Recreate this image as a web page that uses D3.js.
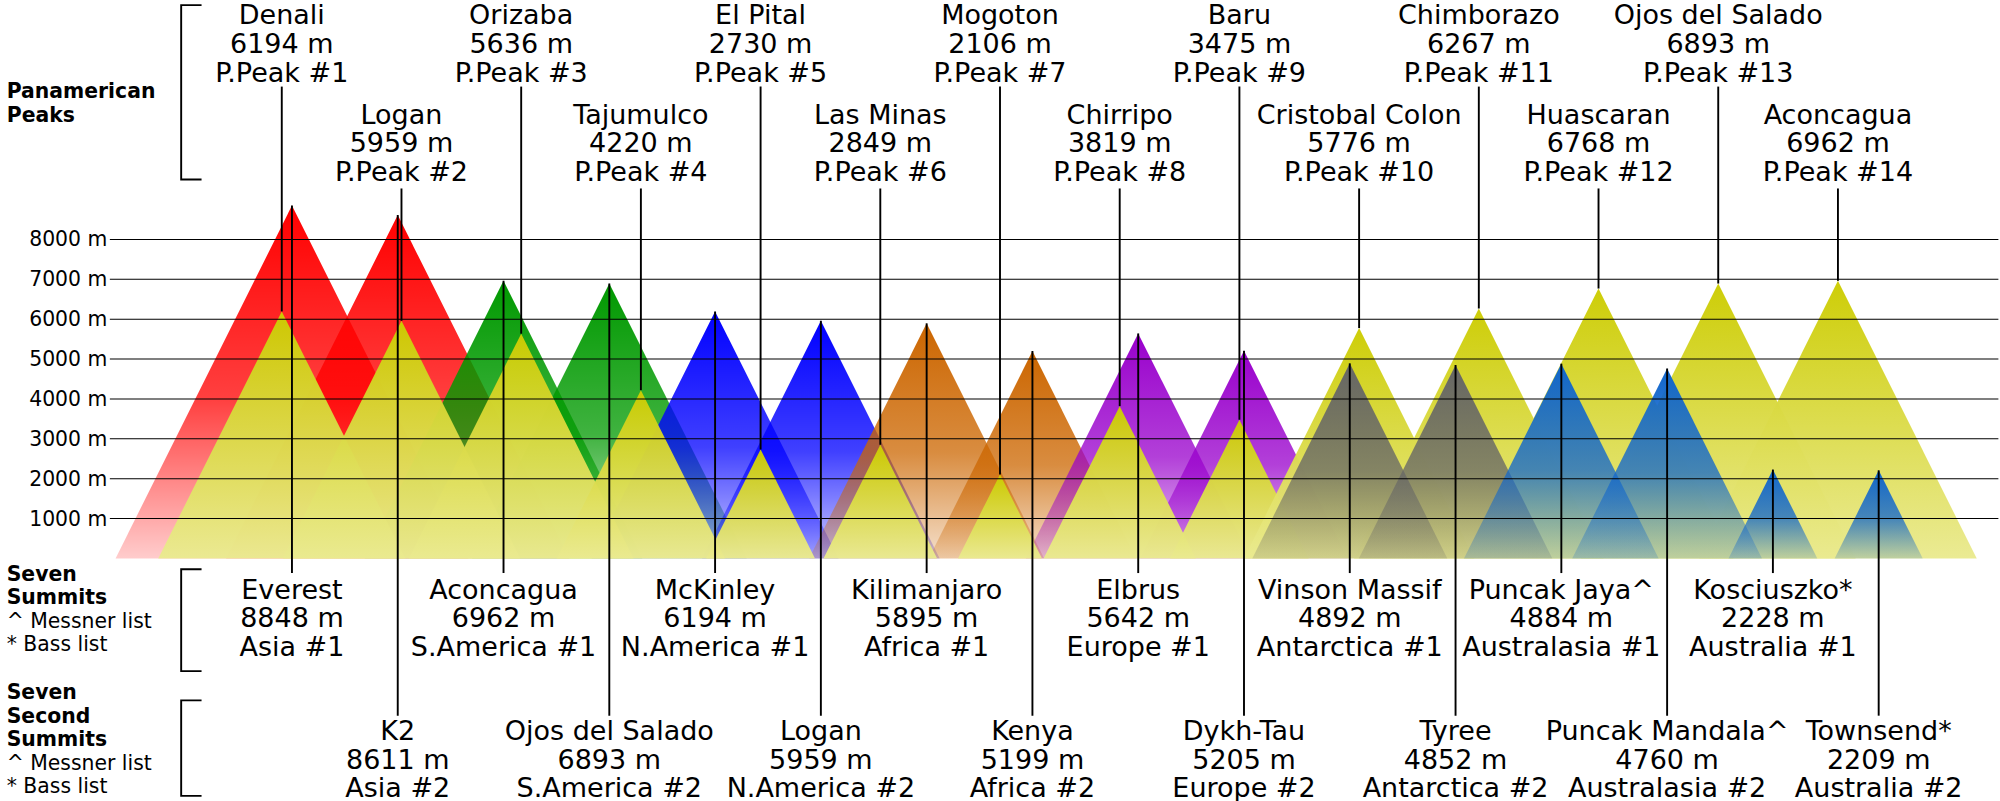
<!DOCTYPE html>
<html><head><meta charset="utf-8">
<script src="https://cdn.jsdelivr.net/npm/d3@7"></script>
<style>body{margin:0;background:#fff}text{font-family:"DejaVu Sans",sans-serif}</style>
</head><body>
<script>
const summitNames=["Everest","K2","Aconcagua","Ojos del Salado","McKinley","Logan","Kilimanjaro","Kenya","Elbrus","Dykh-Tau","Vinson Massif","Tyree","Puncak Jaya^","Puncak Mandala^","Kosciuszko*","Townsend*"];
const summitHeights=[8848,8611,6962,6893,6194,5959,5895,5199,5642,5205,4892,4852,4884,4760,2228,2209];
const summitRegions=["Asia #1","Asia #2","S.America #1","S.America #2","N.America #1","N.America #2","Africa #1","Africa #2","Europe #1","Europe #2","Antarctica #1","Antarctica #2","Australasia #1","Australasia #2","Australia #1","Australia #2"];
const summitColors=["#ff0000","#ff0000","#009900","#009900","#0000ff","#0000ff","#cc6600","#cc6600","#9900cc","#9900cc","#666666","#666666","#1166cc","#1166cc","#1166cc","#1166cc"];
const frontFrom=10;
const panNames=["Denali","Logan","Orizaba","Tajumulco","El Pital","Las Minas","Mogoton","Chirripo","Baru","Cristobal Colon","Chimborazo","Huascaran","Ojos del Salado","Aconcagua"];
const panHeights=[6194,5959,5636,4220,2730,2849,2106,3819,3475,5776,6267,6768,6893,6962];
const yTicks=[1000,2000,3000,4000,5000,6000,7000,8000];

const svg=d3.select("body").append("svg").attr("width",2000).attr("height",801).attr("viewBox","0 0 1568 629");
const y=d3.scaleLinear().domain([0,8000]).range([438.5,188]);
const hw=h=>(y(0)-y(h))/2;
const xs=d3.scalePoint().domain(d3.range(summitNames.length)).range([228,1474]);
const xp=d3.scalePoint().domain(d3.range(panNames.length)).range([220,1442]);
const defs=svg.append("defs");
function grad(id,c,top,bot){
  const g=defs.append("linearGradient").attr("id",id).attr("x1",0).attr("y1",0).attr("x2",0).attr("y2",1);
  g.append("stop").attr("offset","0%").attr("stop-color",c).attr("stop-opacity",top);
  g.append("stop").attr("offset","55%").attr("stop-color",c).attr("stop-opacity",0.75);
  g.append("stop").attr("offset","100%").attr("stop-color",c).attr("stop-opacity",bot);
}
summitColors.forEach((c,i)=>grad("g"+i,c,1,0.2));
const yg=defs.append("linearGradient").attr("id","gy").attr("x1",0).attr("y1",0).attr("x2",0).attr("y2",1);
yg.append("stop").attr("offset","0%").attr("stop-color","#cccc00");
yg.append("stop").attr("offset","100%").attr("stop-color","#eaea90");
const tri=(x,h)=>`M${x-hw(h)},${y(0)}L${x},${y(h)}L${x+hw(h)},${y(0)}Z`;
const back=d3.range(frontFrom), front=d3.range(frontFrom,summitNames.length);
svg.append("g").selectAll("path").data(back).join("path").attr("d",i=>tri(xs(i),summitHeights[i])).attr("fill",i=>`url(#g${i})`);
svg.append("g").selectAll("path").data(panHeights).join("path").attr("d",(h,i)=>tri(xp(i),h)).attr("fill","url(#gy)").attr("opacity",0.97);
svg.append("g").selectAll("path").data(front).join("path").attr("d",i=>tri(xs(i),summitHeights[i])).attr("fill",i=>`url(#g${i})`);
const ax=svg.append("g");
yTicks.forEach(t=>{
  ax.append("line").attr("x1",85).attr("x2",1568).attr("y1",y(t)).attr("y2",y(t)).attr("stroke","#000").attr("stroke-width",0.8);
  ax.append("text").attr("x",83).attr("y",y(t)+5.5).attr("text-anchor","end").attr("font-size",16).text(t+" m");
});
const L=svg.append("g").attr("stroke","#000").attr("stroke-width",1.5);
panHeights.forEach((h,i)=>L.append("line").attr("x1",xp(i)).attr("x2",xp(i)).attr("y1",i%2?148:68).attr("y2",y(h)));
summitHeights.forEach((h,i)=>L.append("line").attr("x1",xs(i)).attr("x2",xs(i)).attr("y1",y(h)).attr("y2",i%2?562:450));
function lab(x,yb,lines){
  const t=svg.append("text").attr("text-anchor","middle").attr("font-size",21.2);
  lines.forEach((s,k)=>t.append("tspan").attr("x",x).attr("y",yb+k*22.5).text(s));
}
panNames.forEach((n,i)=>lab(xp(i),i%2?97:19,[n,panHeights[i]+" m","P.Peak #"+(i+1)]));
summitNames.forEach((n,i)=>lab(xs(i),i%2?581:470,[n,summitHeights[i]+" m",summitRegions[i]]));
function side(yb,lines,bold){
  const t=svg.append("text").attr("font-size",16);
  lines.forEach((s,k)=>t.append("tspan").attr("x",4).attr("y",yb+k*18.5).attr("font-weight",bold[k]?"bold":"normal").text(s));
}
side(77,["Panamerican","Peaks"],[1,1]);
side(456,["Seven","Summits","^ Messner list","* Bass list"],[1,1,0,0]);
side(549,["Seven","Second","Summits","^ Messner list","* Bass list"],[1,1,1,0,0]);
function br(y1,y2){svg.append("path").attr("d",`M157,${y1}H141V${y2}H157`).attr("fill","none").attr("stroke","#000").attr("stroke-width",1.5);}
br(4,141);br(447,527);br(550,625);
</script></body></html>
